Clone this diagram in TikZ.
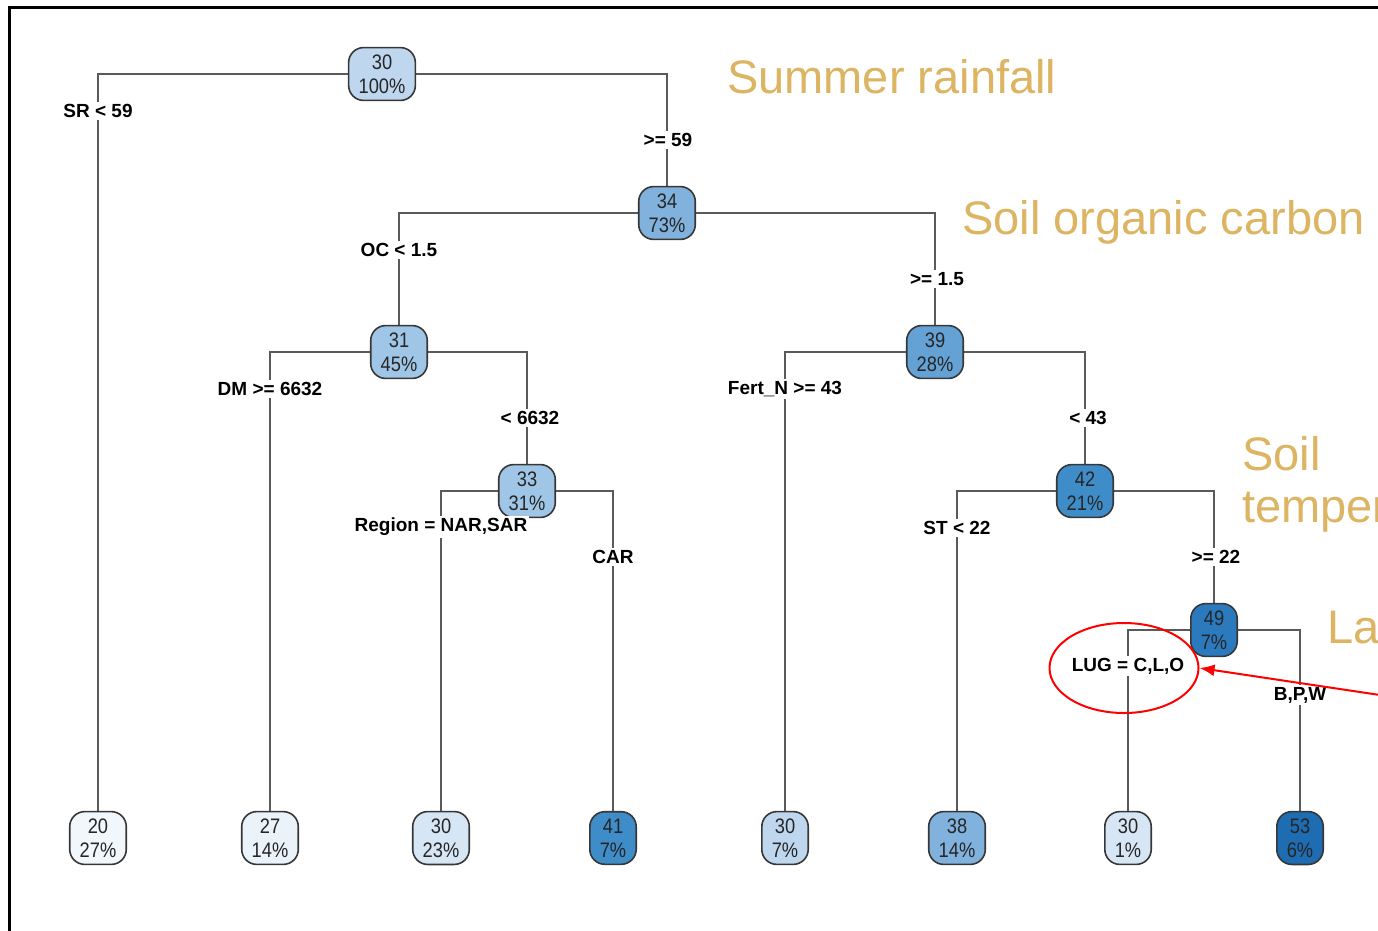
\documentclass[tikz,border=0pt]{standalone}
\usepackage{fontspec}
\setmainfont{Liberation Sans}
\newfontfamily\nodefont[FakeStretch=0.87]{Liberation Sans}
\usetikzlibrary{arrows.meta,backgrounds,shapes.geometric}
\definecolor{gold}{RGB}{220,180,98}
\definecolor{boxline}{RGB}{55,55,55}
\definecolor{edgegray}{RGB}{90,90,90}
\definecolor{cA}{RGB}{242,247,252}
\definecolor{cB}{RGB}{234,242,250}
\definecolor{cC}{RGB}{214,230,245}
\definecolor{cD}{RGB}{190,215,238}
\definecolor{cE}{RGB}{160,198,231}
\definecolor{cF}{RGB}{128,178,221}
\definecolor{cG}{RGB}{100,162,213}
\definecolor{cH}{RGB}{62,140,200}
\definecolor{cI}{RGB}{44,122,190}
\definecolor{cJ}{RGB}{30,108,178}
\begin{document}
\begin{tikzpicture}[x=1pt,y=-1pt,
  tn/.style={draw=boxline, line width=1.6pt, rounded corners=15pt, align=center,
    inner xsep=10pt, inner ysep=7pt, text=black!85,
    font=\nodefont\fontsize{21}{24}\selectfont},
  lbl/.style={fill=white, inner sep=2pt, text=black,
    font=\bfseries\fontsize{19}{22}\selectfont},
  edge/.style={draw=edgegray, line width=1.5pt},
  note/.style={text=gold, anchor=base west, inner sep=0pt,
    font=\fontsize{47}{52}\selectfont}]
\useasboundingbox (0,0) rectangle (1378,930);
\clip (0,0) rectangle (1378,930);
% frame
\draw[line width=3pt] (9,945) -- (9,7) -- (1395,7);

% internal nodes
\node[tn, fill=cD] (n1) at (382,74)  {30\\100\%};
\node[tn, fill=cF] (n2) at (667,213) {34\\73\%};
\node[tn, fill=cE] (n3) at (399,352) {31\\45\%};
\node[tn, fill=cG] (n4) at (935,352) {39\\28\%};
\node[tn, fill=cE] (n5) at (527,491) {33\\31\%};
\node[tn, fill=cH] (n6) at (1085,491) {42\\21\%};
\node[tn, fill=cI] (n7) at (1214,630) {49\\7\%};
% leaves
\node[tn, fill=cA] (l1) at (98,838)   {20\\27\%};
\node[tn, fill=cB] (l2) at (270,838)  {27\\14\%};
\node[tn, fill=cC] (l3) at (441,838)  {30\\23\%};
\node[tn, fill=cH] (l4) at (613,838)  {41\\7\%};
\node[tn, fill=cD] (l5) at (785,838)  {30\\7\%};
\node[tn, fill=cF] (l6) at (957,838)  {38\\14\%};
\node[tn, fill=cC] (l7) at (1128,838) {30\\1\%};
\node[tn, fill=cJ] (l8) at (1300,838) {53\\6\%};

% edges
\begin{scope}[on background layer]
\fill[white] (0,0) rectangle (1378,930);
\draw[edge] (n1.center) -| (l1.center);
\draw[edge] (n1.center) -| (n2.center);
\draw[edge] (n2.center) -| (n3.center);
\draw[edge] (n2.center) -| (n4.center);
\draw[edge] (n3.center) -| (l2.center);
\draw[edge] (n3.center) -| (n5.center);
\draw[edge] (n5.center) -| (l3.center);
\draw[edge] (n5.center) -| (l4.center);
\draw[edge] (n4.center) -| (l5.center);
\draw[edge] (n4.center) -| (n6.center);
\draw[edge] (n6.center) -| (l6.center);
\draw[edge] (n6.center) -| (n7.center);
\draw[edge] (n7.center) -| (l7.center);
\draw[edge] (n7.center) -| (l8.center);
\end{scope}

% split labels
\node[lbl] (s1)  at (98,111)   {SR < 59};
\node[lbl] (s2)  at (668,140)  {>= 59};
\node[lbl] (s3)  at (399,250)  {OC < 1.5};
\node[lbl] (s4)  at (937,279)  {>= 1.5};
\node[lbl] (s5)  at (270,389)  {DM >= 6632};
\node[lbl] (s6)  at (530,418)  {< 6632};
\node[lbl] (s7)  at (441,527)  {Region = NAR,SAR};
\node[lbl] (s8)  at (613,557)  {CAR};
\node[lbl] (s9)  at (785,389)  {Fert\_N >= 43};
\node[lbl] (s10) at (1088,418) {< 43};
\node[lbl] (s11) at (957,528)  {ST < 22};
\node[lbl] (s12) at (1216,557) {>= 22};
\node[lbl] (s13) at (1128,666) {LUG = C,L,O};
\node[lbl] (s14) at (1300,695) {B,P,W};

% annotations
\node[note] (t1) at (727,93)   {Summer rainfall};
\node[note] (t2) at (962,234)  {Soil organic carbon};
\node[note] (t3) at (1242,470) {Soil};
\node[note] (t4) at (1242,522) {temper};
\node[note] (t5) at (1327,643) {La};

% red highlight
\node[draw=red, line width=2pt, ellipse, minimum width=149pt, minimum height=90pt] (ring) at (1124,668) {};
\coordinate (arrowstart) at (1420,701);
\draw[red, line width=2pt, -{Latex[length=15pt,width=12pt]}] (arrowstart) -- (ring.east);
\end{tikzpicture}
\end{document}
